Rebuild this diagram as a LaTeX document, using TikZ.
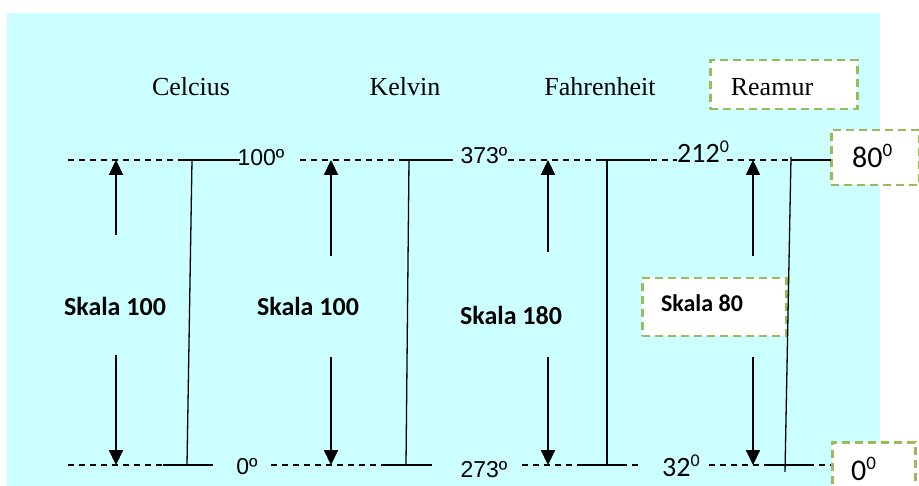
\documentclass[tikz,border=0pt]{standalone}
\usepackage{fontspec}
\setmainfont{Liberation Serif}
\newfontfamily\calibrif{Carlito}
\newfontfamily\arialf{Liberation Sans}
\usetikzlibrary{arrows.meta}
\definecolor{bgcyan}{HTML}{CCFFFF}
\definecolor{boxgreen}{HTML}{9BBB59}
\newcommand\supzero[2]{\raisebox{#1pt}{\fontsize{#2}{#2}\selectfont 0}}
\begin{document}
\begin{tikzpicture}[x=1pt,y=-1pt,
  title/.style={font=\fontsize{26}{30}\selectfont, anchor=base, inner sep=0pt},
  skala/.style={font=\calibrif\bfseries\fontsize{26}{30}\selectfont, anchor=base, inner sep=0pt},
  degA/.style={font=\arialf\fontsize{23}{26}\selectfont, anchor=base, inner sep=0pt},
  degC/.style={font=\calibrif\fontsize{28}{30}\selectfont, anchor=base west, inner sep=0pt},
  gbox/.style={draw=boxgreen, line width=2.5pt, dash pattern=on 8pt off 5pt, fill=white, anchor=north west, inner sep=0pt},
  refline/.style={line width=1.1pt, dash pattern=on 6pt off 5pt},
  scaleline/.style={line width=1.3pt},
  arr/.style={line width=2.2pt, -{Triangle[width=14pt,length=15pt]}},
]
\useasboundingbox (0,0) rectangle (919,486);
\clip (0,0) rectangle (919,486);
\fill[bgcyan] (7,13) rectangle (880,490);

% boxes
\node[gbox, minimum width=147pt, minimum height=49pt] (reabox) at (709,59) {};
\node[gbox, minimum width=88pt, minimum height=55pt] (box80) at (830,129) {};
\node[gbox, minimum width=83pt, minimum height=60pt] (box0) at (831,441) {};
\node[gbox, minimum width=144pt, minimum height=58pt] (skbox) at (641,277) {};

% titles
\node[title] (cel) at (191,96) {Celcius};
\node[title] (kel) at (405,96) {Kelvin};
\node[title] (fah) at (600,96) {Fahrenheit};
\node[title] (rea) at (772,96) {Reamur};

% dashed reference lines
\coordinate (t1a) at (68,160);  \coordinate (t1b) at (238,160);
\coordinate (t2a) at (300,160); \coordinate (t2b) at (453,160);
\coordinate (t3a) at (508,160); \coordinate (t3b) at (677,160);
\coordinate (t4a) at (727,160); \coordinate (t4b) at (831,160);
\coordinate (b1a) at (68,465);  \coordinate (b1b) at (213,465);
\coordinate (b2a) at (271,465); \coordinate (b2b) at (432,465);
\coordinate (b3a) at (522,465); \coordinate (b3b) at (642,465);
\coordinate (b4a) at (709,465); \coordinate (b4b) at (831,465);
\foreach \p in {t1,t2,t3,t4,b1,b2,b3,b4}
  \draw[refline] (\p a) -- (\p b);

% scale bars
\coordinate (cv1) at (192,160); \coordinate (cv2) at (187,465);
\coordinate (ch1) at (182,160); \coordinate (ch2) at (240,160);
\coordinate (cb1) at (163,465); \coordinate (cb2) at (213,465);
\coordinate (kv1) at (409,160); \coordinate (kv2) at (406,465);
\coordinate (kh1) at (400,160); \coordinate (kh2) at (453,160);
\coordinate (kb1) at (387,465); \coordinate (kb2) at (432,465);
\coordinate (fv1) at (607,160); \coordinate (fv2) at (607,465);
\coordinate (fh1) at (597,160); \coordinate (fh2) at (650,160);
\coordinate (fb1) at (580,465); \coordinate (fb2) at (622,465);
\coordinate (rv1) at (791,157); \coordinate (rv2) at (785,472);
\coordinate (rh1) at (791,160); \coordinate (rh2) at (831,160);
\coordinate (rb1) at (768,465); \coordinate (rb2) at (810,465);
\foreach \s in {c,k,f,r}{
  \draw[scaleline] (\s v1) -- (\s v2);
  \draw[scaleline] (\s h1) -- (\s h2);
  \draw[scaleline] (\s b1) -- (\s b2);
}

% arrows
\coordinate (ca0) at (116,235); \coordinate (ca1) at (116,160);
\coordinate (ca2) at (116,355); \coordinate (ca3) at (116,465);
\coordinate (ka0) at (331,256); \coordinate (ka1) at (331,160);
\coordinate (ka2) at (331,357); \coordinate (ka3) at (331,465);
\coordinate (fa0) at (548,252); \coordinate (fa1) at (548,160);
\coordinate (fa2) at (548,357); \coordinate (fa3) at (548,465);
\coordinate (ra0) at (753,256); \coordinate (ra1) at (753,160);
\coordinate (ra2) at (753,357); \coordinate (ra3) at (753,465);
\foreach \s in {c,k,f,r}{
  \draw[arr] (\s a0) -- (\s a1);
  \draw[arr] (\s a2) -- (\s a3);
}

% scale labels
\node[skala] (sk1) at (115,316) {Skala 100};
\node[skala] (sk2) at (308,316) {Skala 100};
\node[skala] (sk3) at (511,325) {Skala 180};
\node[skala, font=\calibrif\bfseries\fontsize{24}{28}\selectfont] (sk4) at (702,312) {Skala 80};

% degree labels
\node[degA] (d100) at (261,166) {100º};
\node[degA] (d373) at (484,164) {373º};
\node[degC] (d212) at (677,163) {212\supzero{10}{18}};
\node[degC, font=\calibrif\fontsize{30}{32}\selectfont] (d80) at (852,168) {80\supzero{11}{19}};
\node[degA] (d0) at (247,475) {0º};
\node[degA] (d273) at (484,477) {273º};
\node[degC] (d32) at (662,476) {32\supzero{10}{18}};
\node[degC, font=\calibrif\fontsize{30}{32}\selectfont] (d0r) at (851,480) {0\supzero{11}{19}};
\end{tikzpicture}
\end{document}
